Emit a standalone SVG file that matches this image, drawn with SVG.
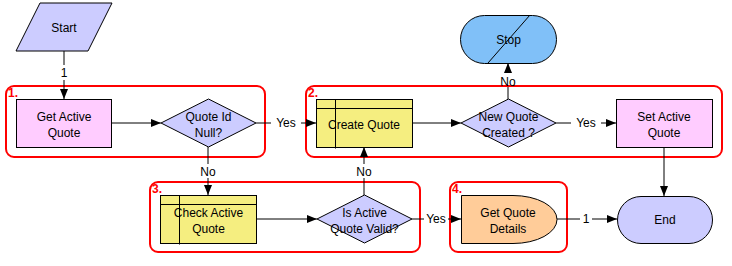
<svg xmlns="http://www.w3.org/2000/svg" width="732" height="266" viewBox="0 0 732 266">
<defs>
<marker id="ah" markerWidth="10" markerHeight="8" refX="10" refY="4" orient="auto" markerUnits="userSpaceOnUse">
<path d="M0,0 L10,4 L0,8 Z" fill="#000"/>
</marker>
<style>
text{font-family:"Liberation Sans",Arial,sans-serif;font-size:12px;fill:#000;text-anchor:middle}
.grp{fill:none;stroke:#FF0000;stroke-width:2}
.gl{fill:#FF0000;font-weight:bold;font-size:12px;text-anchor:start}
.sh{stroke:#000;stroke-width:1}
.ln{stroke:#000;stroke-width:1;fill:none}
.lbl{font-size:12px;fill:#000}
</style>
</defs>
<rect width="732" height="266" fill="#fff"/>

<g id="groups">
<rect class="grp" x="6" y="86" width="259" height="71" rx="8"/>
<text class="gl" x="8" y="97">1.</text>
<rect class="grp" x="306" y="86" width="416" height="71" rx="8"/>
<text class="gl" x="308" y="97">2.</text>
<rect class="grp" x="150" y="182" width="270" height="70" rx="8"/>
<text class="gl" x="152" y="193">3.</text>
<rect class="grp" x="450" y="182" width="117" height="70" rx="8"/>
<text class="gl" x="452" y="193">4.</text>
</g>

<g id="connectors">
<line class="ln" x1="64" y1="51" x2="64" y2="65"/>
<line class="ln" x1="64" y1="80" x2="64" y2="99" marker-end="url(#ah)"/>
<text class="lbl" x="64" y="77">1</text>
<line class="ln" x1="112" y1="123" x2="161" y2="123" marker-end="url(#ah)"/>
<line class="ln" x1="256" y1="123" x2="271" y2="123"/>
<line class="ln" x1="301" y1="123" x2="316" y2="123" marker-end="url(#ah)"/>
<text class="lbl" x="286" y="127">Yes</text>
<line class="ln" x1="412" y1="123" x2="461" y2="123" marker-end="url(#ah)"/>
<line class="ln" x1="556" y1="123" x2="571" y2="123"/>
<line class="ln" x1="601" y1="123" x2="616" y2="123" marker-end="url(#ah)"/>
<text class="lbl" x="586" y="127">Yes</text>
<line class="ln" x1="508" y1="99" x2="508" y2="87"/>
<line class="ln" x1="508" y1="72" x2="508" y2="63" marker-end="url(#ah)"/>
<text class="lbl" x="508" y="86">No</text>
<line class="ln" x1="664" y1="147" x2="664" y2="196" marker-end="url(#ah)"/>
<line class="ln" x1="208" y1="147" x2="208" y2="164"/>
<line class="ln" x1="208" y1="178" x2="208" y2="195" marker-end="url(#ah)"/>
<text class="lbl" x="208" y="176">No</text>
<line class="ln" x1="257" y1="219" x2="317" y2="219" marker-end="url(#ah)"/>
<line class="ln" x1="364" y1="195" x2="364" y2="178"/>
<line class="ln" x1="364" y1="164" x2="364" y2="147" marker-end="url(#ah)"/>
<text class="lbl" x="364" y="176">No</text>
<line class="ln" x1="412" y1="219" x2="424" y2="219"/>
<line class="ln" x1="448" y1="219" x2="461" y2="219" marker-end="url(#ah)"/>
<text class="lbl" x="436" y="223">Yes</text>
<line class="ln" x1="557" y1="219" x2="580" y2="219"/>
<line class="ln" x1="592" y1="219" x2="617" y2="219" marker-end="url(#ah)"/>
<text class="lbl" x="586" y="223">1</text>
</g>

<g id="start">
<polygon class="sh" points="40,3 112,3 88,51 16,51" fill="#CCCCFF"/>
<text x="64" y="32">Start</text>
</g>
<g id="get-active-quote">
<rect class="sh" x="16.5" y="99.5" width="95" height="48" fill="#FFCCFF"/>
<text x="64" y="120.5">Get Active</text>
<text x="64" y="136.5">Quote</text>
</g>
<g id="quote-id-null">
<polygon class="sh" points="161,123 208.5,99 256,123 208.5,147" fill="#CCCCFF"/>
<text x="208.5" y="120.5">Quote Id</text>
<text x="208.5" y="136.5">Null?</text>
</g>
<g id="create-quote">
<rect class="sh" x="316.5" y="99.5" width="96" height="48" fill="#F5EE80"/>
<line class="ln" x1="316.5" y1="108.5" x2="412.5" y2="108.5"/>
<line class="ln" x1="335.5" y1="99.5" x2="335.5" y2="148.5"/>
<text x="364" y="128.5">Create Quote</text>
</g>
<g id="new-quote-created">
<polygon class="sh" points="461,123 508.5,99 556,123 508.5,147" fill="#CCCCFF"/>
<text x="508.5" y="120.5">New Quote</text>
<text x="508.5" y="136.5">Created ?</text>
</g>
<g id="set-active-quote">
<rect class="sh" x="616.5" y="99.5" width="96" height="48" fill="#FFCCFF"/>
<text x="664" y="120.5">Set Active</text>
<text x="664" y="136.5">Quote</text>
</g>
<g id="stop">
<rect class="sh" x="460.5" y="15.5" width="96" height="48" rx="24" fill="#80C0F8"/>
<line class="ln" x1="488" y1="63" x2="530" y2="15"/>
<text x="508.5" y="44">Stop</text>
</g>
<g id="check-active-quote">
<rect class="sh" x="160.5" y="195.5" width="96" height="48" fill="#F5EE80"/>
<line class="ln" x1="160.5" y1="204.5" x2="256.5" y2="204.5"/>
<line class="ln" x1="179.5" y1="195.5" x2="179.5" y2="244.5"/>
<text x="208.5" y="216.5">Check Active</text>
<text x="208.5" y="232.5">Quote</text>
</g>
<g id="is-active-quote-valid">
<polygon class="sh" points="317,219 364.5,195 412,219 364.5,243" fill="#CCCCFF"/>
<text x="364.5" y="216.5">Is Active</text>
<text x="364.5" y="232.5">Quote Valid?</text>
</g>
<g id="get-quote-details">
<path class="sh" d="M461.5,195.5 H513 A44,24 0 0 1 513,243.5 H461.5 Z" fill="#FFCC99"/>
<text x="508" y="216.5">Get Quote</text>
<text x="508" y="232.5">Details</text>
</g>
<g id="end">
<rect class="sh" x="617.5" y="196.5" width="95" height="47" rx="23.5" fill="#CCCCFF"/>
<text x="665" y="224">End</text>
</g>
</svg>
